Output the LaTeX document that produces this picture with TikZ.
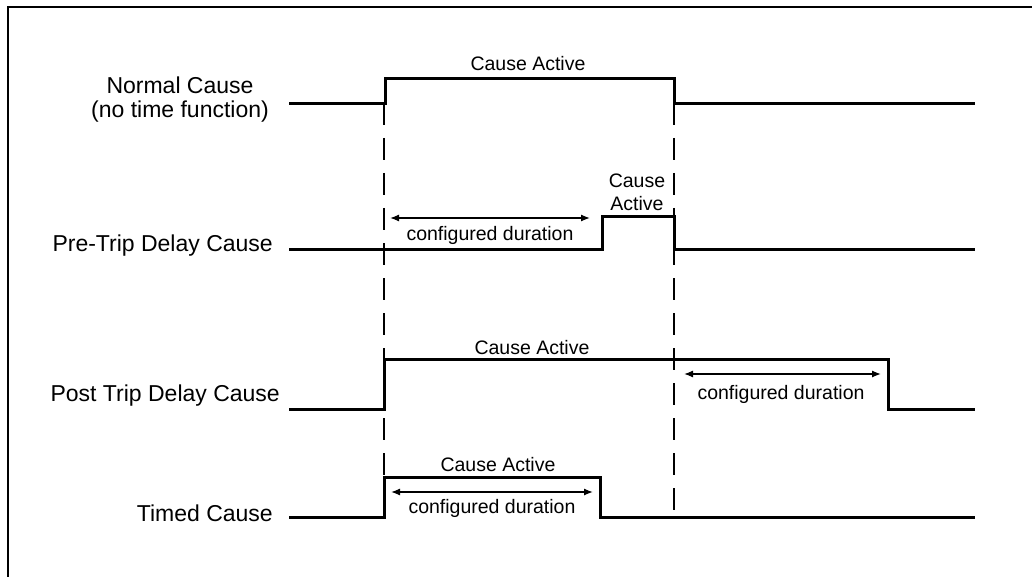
\documentclass[tikz,border=0pt]{standalone}
\usepackage{fontspec}
\setmainfont{Liberation Sans}
\usetikzlibrary{arrows.meta}
\begin{document}
\begin{tikzpicture}[x=1pt,y=-1pt,
  sig/.style={line width=3pt,line join=miter},
  guide/.style={line width=1.4pt,dash pattern=on 22pt off 13pt},
  dur/.style={line width=1.3pt,{Latex[length=9pt,width=7pt]}-{Latex[length=9pt,width=7pt]}},
  lbl/.style={font=\fontsize{23}{27}\selectfont,inner sep=0pt},
  lblc/.style={font=\fontsize{23}{24}\selectfont,inner sep=0pt,align=center},
  small/.style={font=\fontsize{19.5}{24}\selectfont,inner sep=0pt,align=center}]
\useasboundingbox (0,0) rectangle (1032,577);
\fill[white] (0,0) rectangle (1032,577);
% frame (top and left edges only)
\draw[line width=2pt] (1032,7.5) -- (7.5,7.5) -- (7.5,577);

% row labels
\node[lblc] (lnormal) at (180,100) {Normal Cause\\(no time function)};
\node[lbl,anchor=east] (lpre) at (273,246) {Pre-Trip Delay Cause};
\node[lbl,anchor=east] (lpost) at (280,396) {Post Trip Delay Cause};
\node[lbl,anchor=east] (ltimed) at (273,513) {Timed Cause};

% guide coordinates
\coordinate (g1top) at (384,103);
\coordinate (g1bot) at (384,480);
\coordinate (g2top) at (674,103);
\coordinate (g2bot) at (674,518);
\draw[guide] (g1top) -- (g1bot);
\draw[guide] (g2top) -- (g2bot);

% Normal cause
\draw[sig] (289,104) -- (385,104) -- (385,79) -- (674,79) -- (674,104) -- (975,104);
\node[small] (na) at (528,64) {Cause Active};

% Pre-trip
\draw[sig] (289,249) -- (602,249) -- (602,217) -- (674,217) -- (674,249) -- (975,249);
\node[small] (pa) at (637,192) {Cause\\[-1pt]Active};
\coordinate (pa1) at (390,218);
\coordinate (pa2) at (590,218);
\draw[dur] (pa1) -- (pa2);
\node[small] (pd) at (490,235) {configured duration};

% Post trip
\draw[sig] (289,409) -- (384,409) -- (384,359) -- (888,359) -- (888,409) -- (975,409);
\node[small] (qa) at (532,348) {Cause Active};
\coordinate (qa1) at (684,374);
\coordinate (qa2) at (881,374);
\draw[dur] (qa1) -- (qa2);
\node[small] (qd) at (781,394) {configured duration};

% Timed cause
\draw[sig] (289,517) -- (384,517) -- (384,477) -- (600,477) -- (600,517) -- (975,517);
\node[small] (ta) at (498,465) {Cause Active};
\coordinate (ta1) at (391,492);
\coordinate (ta2) at (593,492);
\draw[dur] (ta1) -- (ta2);
\node[small] (td) at (492,508) {configured duration};
\end{tikzpicture}
\end{document}
